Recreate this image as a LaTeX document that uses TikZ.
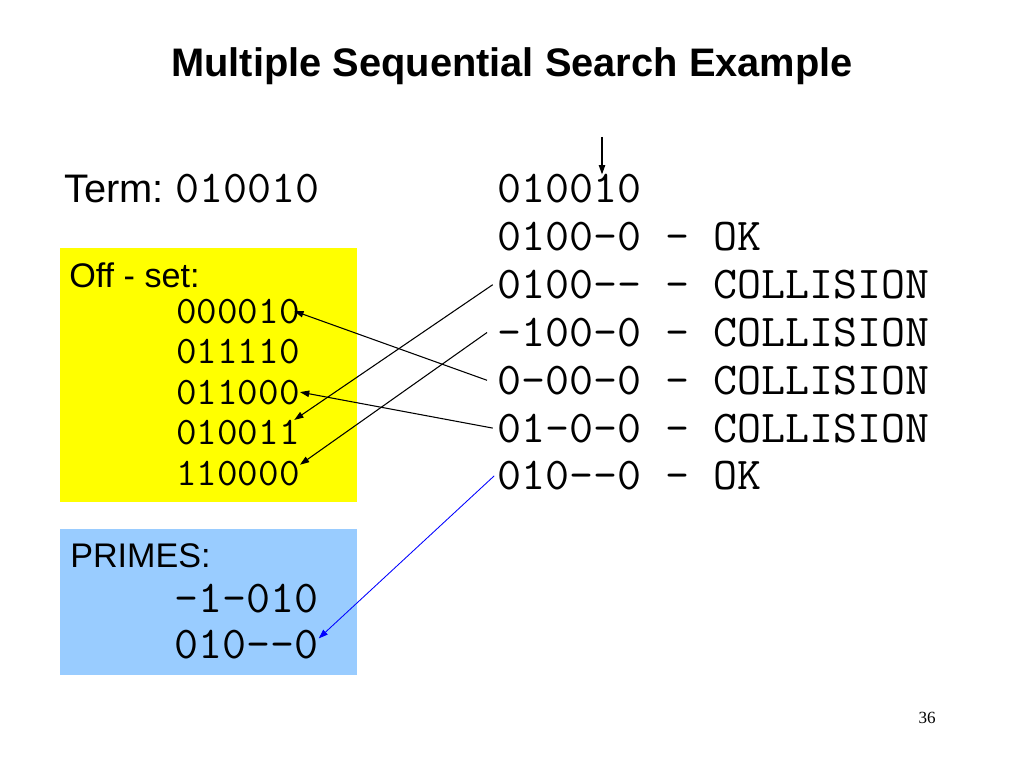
\documentclass[tikz,border=0pt]{standalone}
\usepackage{fontspec}
\setmainfont{Liberation Sans}
\setmonofont{Latin Modern Mono}[FakeStretch=1.025]
\newfontfamily\pagefont{Liberation Serif}
\usetikzlibrary{arrows.meta, calc}
\definecolor{offyellow}{HTML}{FFFF00}
\definecolor{primeblue}{HTML}{99CCFF}
\definecolor{linkblue}{HTML}{0000FF}

\begin{document}
\begin{tikzpicture}[
    x=0.703125pt, y=-0.703125pt,
    >={Triangle[length=6.5pt, width=4.5pt]},
    bigcode/.style={font=\fontsize{32}{38}\selectfont\ttfamily, inner sep=0pt, anchor=base west},
    smallcode/.style={font=\fontsize{27.4}{33}\selectfont\ttfamily, inner sep=0pt, anchor=base west},
    headtext/.style={font=\fontsize{24}{29}\selectfont, inner sep=0pt, anchor=base west},
    arr/.style={->, line width=0.75pt},
    barr/.style={->, line width=0.6pt, color=linkblue},
]

% Page
\useasboundingbox (0,0) rectangle (1024,768);
\fill[white] (0,0) rectangle (1024,768);

% Title
\node[font=\fontsize{28}{34}\selectfont\bfseries, anchor=base, inner sep=0pt] (title) at (512,77) {Multiple Sequential Search Example};

% Term
\node[headtext, font=\fontsize{28}{34}\selectfont] (term) at (64,203) {Term:};
\node[bigcode] (termval) at (175,203) {010010};

% Off-set box
\fill[offyellow] (60,248) rectangle (357,502);
\node[headtext] (offhead) at (69,287) {Off - set:};
\node[smallcode] (o1) at (176,323) {000010};
\node[smallcode] (o2) at (176,363.5) {011110};
\node[smallcode] (o3) at (176,404) {011000};
\node[smallcode] (o4) at (176,444.5) {010011};
\node[smallcode] (o5) at (176,485) {110000};

% Primes box
\fill[primeblue] (60,529) rectangle (357,675);
\node[headtext] (primehead) at (70,567) {PRIMES:};
\node[bigcode] (p1) at (174,612) {-1-010};
\node[bigcode] (p2) at (174,658) {010--0};

% Search rows
\node[bigcode] (r0) at (497,203) {010010};
\node[bigcode] (r1) at (497,250.8) {0100-0 - OK};
\node[bigcode] (r2) at (497,298.6) {0100-- - COLLISION};
\node[bigcode] (r3) at (497,346.4) {-100-0 - COLLISION};
\node[bigcode] (r4) at (497,394.2) {0-00-0 - COLLISION};
\node[bigcode] (r5) at (497,442) {01-0-0 - COLLISION};
\node[bigcode] (r6) at (497,489.8) {010--0 - OK};

% Pointer to the varied bit
\coordinate (ptr) at ($(r0.base west)+(105,-66)$);
\draw[arr] (ptr) -- (ptr |- r0.north);

% Collisions
\draw[arr] ([xshift=-3pt]r2.west) -- ([xshift=-4pt]o4.north east);
\draw[arr] ([xshift=-7pt]r3.west) -- ([yshift=-3pt]o5.north east);
\draw[arr] ([xshift=-7pt]r4.west) -- ([xshift=-4pt]o1.east);
\draw[arr] ([xshift=-3pt]r5.west) -- (o3.east);

% New prime
\draw[barr] ([xshift=-2pt]r6.west) -- ([yshift=4pt]p2.east);

% Slide number
\node[font=\pagefont\fontsize{12}{14}\selectfont, anchor=base east, inner sep=0pt] (page) at (936,723) {36};

\end{tikzpicture}
\end{document}
